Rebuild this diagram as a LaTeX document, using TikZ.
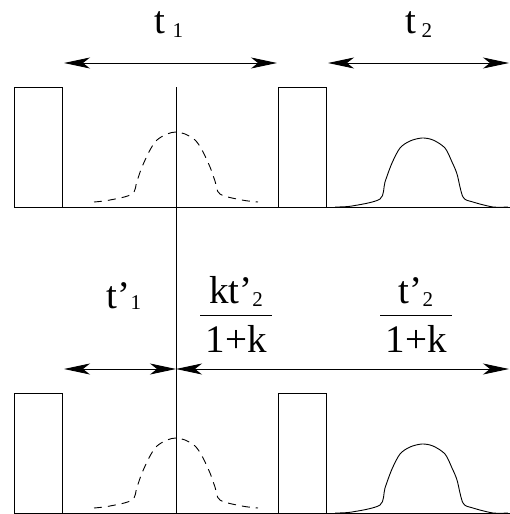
\documentclass[tikz,border=0pt]{standalone}
\usepackage{fontspec}
\setmainfont{Liberation Serif}
\usepackage{tikz}
\usetikzlibrary{arrows.meta,positioning,calc}
\newcommand{\lbl}{\fontsize{39}{40}\selectfont}
\newcommand{\sbs}[1]{\raisebox{-4pt}{\fontsize{21}{22}\selectfont #1}}

\begin{document}
\begin{tikzpicture}[
  x=1pt, y=-1pt,
  every node/.style={inner sep=0pt, font=\lbl},
  pulse/.style ={draw=black, line width=0.9pt},
  base/.style  ={draw=black, line width=0.9pt},
  echo/.style  ={draw=black, line width=0.9pt, dash pattern=on 8pt off 6pt},
  signal/.style={draw=black, line width=0.9pt},
  dim/.style   ={{Stealth[length=26pt,width=11pt,inset=7pt]}-{Stealth[length=26pt,width=11pt,inset=7pt]},
                 line width=0.9pt},
  bar/.style   ={line width=0.9pt}]

\useasboundingbox (0,0) rectangle (510,514);

% ---------------------------- two panels ----------------------------
\foreach \dy in {0,306} {
  \begin{scope}[shift={(0,\dy)}]
    \draw[base] (14,207) -- (510,207);
    \draw[pulse] (14,207) rectangle (62,87);
    \draw[pulse] (278,207) rectangle (326,87);
    \draw[echo] plot[smooth, tension=0.55] coordinates {
      (94,202) (110,200) (132,194) (137,181) (142,167) (150,150) (157,140)
      (167,134) (176,132) (185,134) (195,140) (202,150) (210,167) (215,181)
      (220,194) (242,200) (258,202)};
    \draw[signal] plot[smooth, tension=0.5] coordinates {
      (335,207) (352,206) (380,199) (385,182) (392,163) (400,148) (410,141)
      (422,138) (433,140) (445,148) (452,162) (457,174) (463,197) (473,202)
      (493,207) (508,207)};
  \end{scope}
}

% the refocusing time marker
\coordinate (mtop) at (176,87);
\coordinate (mbot) at (176,513);
\draw[base] (mtop) -- (mbot);

% ---------------------------- upper intervals ----------------------------
\coordinate (u0) at (64,63);
\coordinate (u1) at (277,63);
\coordinate (u2) at (328,63);
\coordinate (u3) at (509,63);
\draw[dim] (u0) -- (u1);
\draw[dim] (u2) -- (u3);
\node[anchor=base] (tone) at (169,33) {t\hspace{7pt}\sbs{1}};
\node[anchor=base] (ttwo) at (419,33) {t\hspace{5pt}\sbs{2}};

% ---------------------------- lower intervals ----------------------------
\coordinate (l0) at (64,369);
\coordinate (l1) at (176,369);
\coordinate (l2) at (509,369);
\draw[dim] (l0) -- (l1);
\draw[dim] (l1) -- (l2);
\node[anchor=base] (tpone) at (124,308) {t’\raisebox{3pt}{\sbs{1}}};

\node[anchor=base] (fanum) at (236,303) {kt’\raisebox{1pt}{\sbs{2}}};
\node[anchor=base] (faden) at (236,352) {1+k};
\draw[bar] (200,315) -- (272,315);

\node[anchor=base] (fbnum) at (416,303) {t’\raisebox{1pt}{\sbs{2}}};
\node[anchor=base] (fbden) at (416,352) {1+k};
\draw[bar] (380,315) -- (452,315);

\end{tikzpicture}
\end{document}
